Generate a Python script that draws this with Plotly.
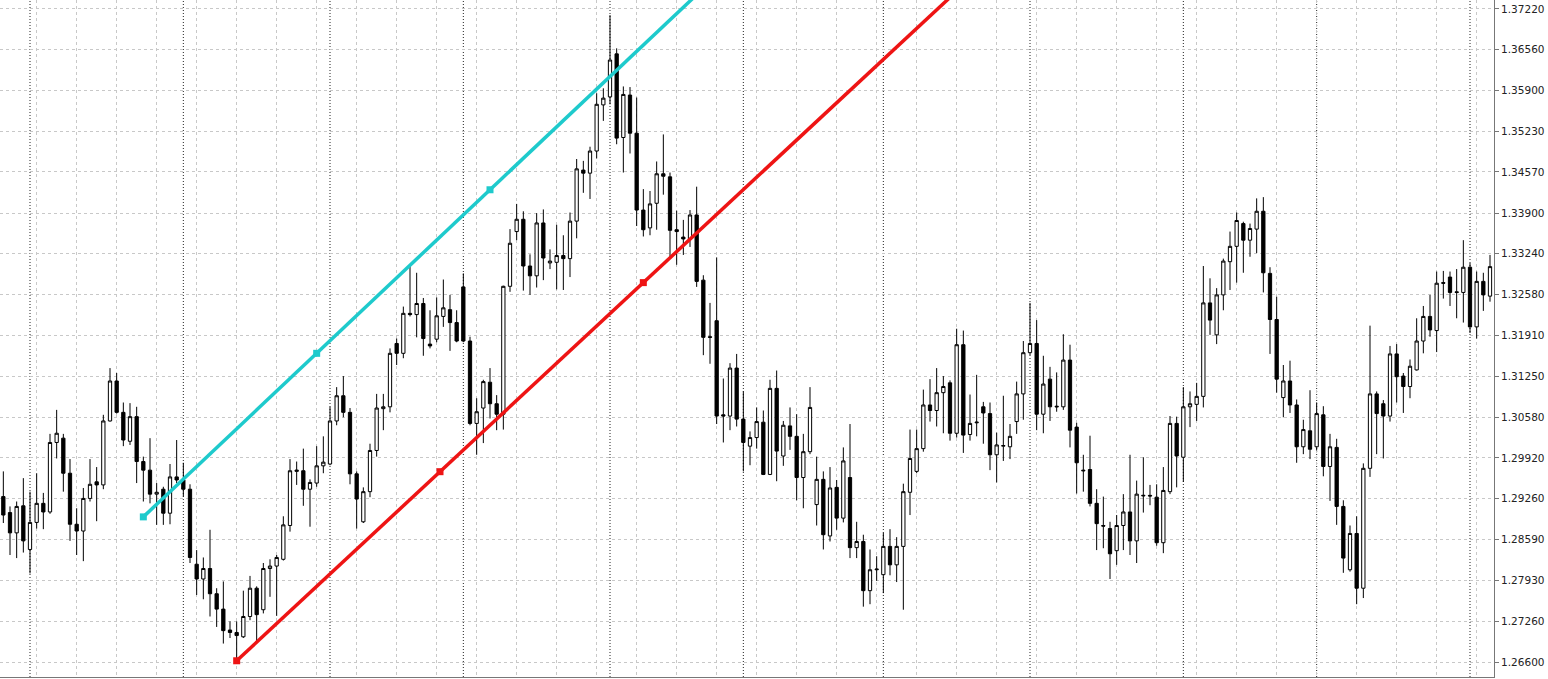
import plotly.graph_objects as go

# ---- candle data (hourly bars, index 0..223) ----
opens = [
    1.2929, 1.2903, 1.2870, 1.2914, 1.2843, 1.2887, 1.2918, 1.2904, 1.3017, 1.3024,
    1.2967, 1.2884, 1.2873, 1.2926, 1.2953, 1.2948, 1.3052, 1.3117, 1.3066, 1.3019,
    1.3059, 1.2986, 1.2972, 1.2933, 1.2941, 1.2902, 1.2961, 1.2956, 1.2941, 1.2819,
    1.2795, 1.2812, 1.2771, 1.2746, 1.2712, 1.2708, 1.2701, 1.2734, 1.2780, 1.2745,
    1.2812, 1.2816, 1.2827, 1.2882, 1.2970, 1.2971, 1.2941, 1.2951, 1.2979, 1.2982,
    1.3052, 1.3093, 1.3066, 1.2966, 1.2888, 1.2937, 1.3004, 1.3072, 1.3075, 1.3178,
    1.3162, 1.3227, 1.3225, 1.3243, 1.3177, 1.3185, 1.3222, 1.3233, 1.3212, 1.3270,
    1.3182, 1.3048, 1.3073, 1.3115, 1.3080, 1.3063, 1.3271, 1.3360, 1.3380, 1.3304,
    1.3288, 1.3374, 1.3309, 1.3310, 1.3321, 1.3316, 1.3377, 1.3460, 1.3455, 1.3491,
    1.3566, 1.3579, 1.3649, 1.3513, 1.3582, 1.3520, 1.3395, 1.3366, 1.3406, 1.3454,
    1.3449, 1.3363, 1.3351, 1.3348, 1.3387, 1.3281, 1.3189, 1.3215, 1.3062, 1.3060,
    1.3138, 1.3055, 1.3011, 1.3025, 1.3050, 1.2965, 1.3105, 1.2995, 1.3044, 1.3027,
    1.2960, 1.3002, 1.2916, 1.2957, 1.2865, 1.2944, 1.2894, 1.2960, 1.2846, 1.2856,
    1.2776, 1.2810, 1.2802, 1.2848, 1.2818, 1.2848, 1.2936, 1.2970, 1.3007, 1.3078,
    1.3069, 1.3098, 1.3114, 1.3032, 1.3176, 1.3030, 1.3049, 1.3075, 1.3064, 1.2997,
    1.3011, 1.3010, 1.3051, 1.3096, 1.3163, 1.3178, 1.3063, 1.3120, 1.3076, 1.3075,
    1.3151, 1.3042, 1.2972, 1.2973, 1.2918, 1.2882, 1.2877, 1.2841, 1.2882, 1.2904,
    1.2857, 1.2930, 1.2931, 1.2928, 1.2854, 1.2937, 1.3048, 1.2993, 1.3075, 1.3079,
    1.3092, 1.3244, 1.3192, 1.3257, 1.3311, 1.3336, 1.3373, 1.3346, 1.3364, 1.3393,
    1.3292, 1.3217, 1.3090, 1.3117, 1.3078, 1.3010, 1.3036, 1.3010, 1.3062, 1.2978,
    1.3009, 1.2913, 1.2810, 1.2869, 1.2780, 1.2975, 1.3096, 1.3080, 1.3060, 1.3161,
    1.3125, 1.3108, 1.3135, 1.3182, 1.3222, 1.3199, 1.3277, 1.3286, 1.3262, 1.3261,
    1.3302, 1.3205, 1.3279, 1.3255,
]
highs = [
    1.2970, 1.2913, 1.2921, 1.2959, 1.2937, 1.2967, 1.2935, 1.3031, 1.3070, 1.3031,
    1.2990, 1.2910, 1.2943, 1.2990, 1.2977, 1.3062, 1.3138, 1.3130, 1.3082, 1.3081,
    1.3075, 1.2994, 1.3024, 1.2951, 1.2945, 1.2982, 1.3021, 1.2984, 1.2949, 1.2842,
    1.2830, 1.2875, 1.2780, 1.2791, 1.2726, 1.2726, 1.2776, 1.2800, 1.2783, 1.2821,
    1.2827, 1.2834, 1.2897, 1.2990, 1.2986, 1.3007, 1.2957, 1.3011, 1.3027, 1.3075,
    1.3107, 1.3125, 1.3073, 1.2970, 1.2944, 1.3015, 1.3096, 1.3096, 1.3170, 1.3186,
    1.3238, 1.3306, 1.3293, 1.3252, 1.3232, 1.3253, 1.3282, 1.3257, 1.3232, 1.3292,
    1.3189, 1.3089, 1.3119, 1.3138, 1.3094, 1.3272, 1.3364, 1.3405, 1.3393, 1.3323,
    1.3390, 1.3396, 1.3331, 1.3371, 1.3354, 1.3391, 1.3478, 1.3475, 1.3498, 1.3585,
    1.3593, 1.3712, 1.3658, 1.3596, 1.3595, 1.3578, 1.3429, 1.3426, 1.3474, 1.3518,
    1.3456, 1.3394, 1.3379, 1.3395, 1.3433, 1.3289, 1.3244, 1.3318, 1.3121, 1.3146,
    1.3161, 1.3100, 1.3035, 1.3074, 1.3069, 1.3119, 1.3134, 1.3052, 1.3074, 1.3063,
    1.3031, 1.3107, 1.2994, 1.2970, 1.2977, 1.2956, 1.3009, 1.3047, 1.2888, 1.2867,
    1.2843, 1.2832, 1.2870, 1.2876, 1.2863, 1.2950, 1.3038, 1.3038, 1.3103, 1.3120,
    1.3138, 1.3125, 1.3118, 1.3202, 1.3199, 1.3095, 1.3127, 1.3083, 1.3082, 1.3033,
    1.3093, 1.3047, 1.3116, 1.3182, 1.3244, 1.3216, 1.3158, 1.3140, 1.3131, 1.3193,
    1.3176, 1.3049, 1.2997, 1.3028, 1.2941, 1.2929, 1.2888, 1.2899, 1.2933, 1.2997,
    1.2955, 1.2993, 1.2948, 1.2949, 1.2977, 1.3060, 1.3059, 1.3107, 1.3100, 1.3114,
    1.3304, 1.3284, 1.3268, 1.3316, 1.3360, 1.3391, 1.3376, 1.3373, 1.3414, 1.3416,
    1.3302, 1.3254, 1.3143, 1.3150, 1.3087, 1.3054, 1.3102, 1.3082, 1.3076, 1.3031,
    1.3023, 1.2923, 1.2882, 1.2897, 1.2983, 1.3207, 1.3100, 1.3086, 1.3174, 1.3177,
    1.3130, 1.3152, 1.3219, 1.3239, 1.3257, 1.3295, 1.3296, 1.3295, 1.3299, 1.3346,
    1.3309, 1.3295, 1.3293, 1.3322,
]
lows = [
    1.2886, 1.2834, 1.2829, 1.2838, 1.2804, 1.2877, 1.2876, 1.2901, 1.2991, 1.2937,
    1.2857, 1.2834, 1.2824, 1.2921, 1.2889, 1.2941, 1.3051, 1.3064, 1.3011, 1.3013,
    1.2951, 1.2921, 1.2918, 1.2883, 1.2883, 1.2884, 1.2951, 1.2929, 1.2821, 1.2769,
    1.2762, 1.2734, 1.2717, 1.2690, 1.2699, 1.2661, 1.2699, 1.2728, 1.2691, 1.2739,
    1.2766, 1.2735, 1.2825, 1.2872, 1.2948, 1.2914, 1.2880, 1.2945, 1.2967, 1.2980,
    1.3045, 1.3058, 1.2949, 1.2877, 1.2886, 1.2928, 1.2994, 1.3037, 1.3066, 1.3143,
    1.3154, 1.3222, 1.3188, 1.3158, 1.3170, 1.3180, 1.3205, 1.3166, 1.3180, 1.3180,
    1.3045, 1.2997, 1.3016, 1.3056, 1.3037, 1.3038, 1.3262, 1.3346, 1.3264, 1.3257,
    1.3269, 1.3281, 1.3299, 1.3266, 1.3265, 1.3286, 1.3349, 1.3423, 1.3413, 1.3479,
    1.3540, 1.3567, 1.3502, 1.3456, 1.3487, 1.3369, 1.3352, 1.3354, 1.3363, 1.3420,
    1.3316, 1.3306, 1.3322, 1.3335, 1.3270, 1.3159, 1.3145, 1.3047, 1.3017, 1.3037,
    1.3043, 1.2970, 1.2980, 1.3007, 1.2964, 1.2964, 1.2954, 1.2979, 1.3005, 1.2923,
    1.2910, 1.2998, 1.2882, 1.2843, 1.2856, 1.2875, 1.2887, 1.2829, 1.2829, 1.2750,
    1.2754, 1.2792, 1.2772, 1.2801, 1.2790, 1.2745, 1.2899, 1.2967, 1.3002, 1.3051,
    1.3043, 1.3032, 1.3020, 1.3025, 1.3000, 1.3020, 1.3027, 1.3015, 1.2972, 1.2952,
    1.2987, 1.2990, 1.3031, 1.3054, 1.3159, 1.3037, 1.3032, 1.3052, 1.3067, 1.3070,
    1.3009, 1.2934, 1.2937, 1.2913, 1.2842, 1.2845, 1.2795, 1.2818, 1.2842, 1.2834,
    1.2821, 1.2903, 1.2915, 1.2849, 1.2837, 1.2933, 1.2944, 1.2953, 1.3042, 1.3052,
    1.3074, 1.3192, 1.3177, 1.3232, 1.3265, 1.3277, 1.3293, 1.3319, 1.3325, 1.3261,
    1.3161, 1.3098, 1.3058, 1.3065, 1.2984, 1.2998, 1.2990, 1.3004, 1.2962, 1.2922,
    1.2883, 1.2805, 1.2807, 1.2754, 1.2764, 1.2961, 1.2998, 1.2991, 1.3051, 1.3082,
    1.3065, 1.3089, 1.3134, 1.3162, 1.3189, 1.3164, 1.3251, 1.3239, 1.3219, 1.3212,
    1.3195, 1.3186, 1.3231, 1.3246,
]
closes = [
    1.2899, 1.2870, 1.2913, 1.2857, 1.2887, 1.2918, 1.2904, 1.3017, 1.3032, 1.2967,
    1.2884, 1.2873, 1.2926, 1.2949, 1.2948, 1.3052, 1.3117, 1.3066, 1.3021, 1.3059,
    1.2986, 1.2972, 1.2933, 1.2936, 1.2902, 1.2961, 1.2956, 1.2941, 1.2830, 1.2795,
    1.2812, 1.2771, 1.2746, 1.2711, 1.2708, 1.2703, 1.2734, 1.2780, 1.2737, 1.2812,
    1.2816, 1.2830, 1.2883, 1.2971, 1.2972, 1.2941, 1.2952, 1.2979, 1.2985, 1.3052,
    1.3093, 1.3066, 1.2966, 1.2925, 1.2937, 1.3004, 1.3073, 1.3075, 1.3162, 1.3162,
    1.3227, 1.3225, 1.3243, 1.3186, 1.3174, 1.3223, 1.3236, 1.3212, 1.3182, 1.3182,
    1.3048, 1.3067, 1.3116, 1.3080, 1.3063, 1.3271, 1.3341, 1.3380, 1.3304, 1.3288,
    1.3374, 1.3317, 1.3312, 1.3321, 1.3316, 1.3377, 1.3462, 1.3455, 1.3491, 1.3567,
    1.3577, 1.3639, 1.3512, 1.3583, 1.3520, 1.3395, 1.3363, 1.3405, 1.3454, 1.3450,
    1.3362, 1.3360, 1.3348, 1.3387, 1.3279, 1.3188, 1.3188, 1.3060, 1.3060, 1.3138,
    1.3055, 1.3017, 1.3025, 1.3051, 1.2965, 1.3105, 1.3003, 1.3045, 1.3027, 1.2960,
    1.3002, 1.3074, 1.2957, 1.2867, 1.2943, 1.2894, 1.2987, 1.2846, 1.2856, 1.2776,
    1.2810, 1.2811, 1.2848, 1.2818, 1.2848, 1.2937, 1.2991, 1.3007, 1.3078, 1.3069,
    1.3098, 1.3108, 1.3032, 1.3176, 1.3029, 1.3048, 1.3050, 1.3065, 1.2997, 1.3013,
    1.3012, 1.3027, 1.3096, 1.3163, 1.3178, 1.3063, 1.3112, 1.3075, 1.3075, 1.3151,
    1.3037, 1.2984, 1.2971, 1.2918, 1.2885, 1.2881, 1.2836, 1.2882, 1.2904, 1.2857,
    1.2933, 1.2931, 1.2930, 1.2854, 1.2939, 1.3048, 1.2995, 1.3075, 1.3080, 1.3092,
    1.3244, 1.3216, 1.3257, 1.3312, 1.3336, 1.3378, 1.3346, 1.3365, 1.3393, 1.3293,
    1.3217, 1.3120, 1.3117, 1.3078, 1.3010, 1.3038, 1.3006, 1.3064, 1.2978, 1.3010,
    1.2913, 1.2829, 1.2869, 1.2780, 1.2975, 1.3096, 1.3064, 1.3060, 1.3161, 1.3124,
    1.3108, 1.3141, 1.3182, 1.3222, 1.3200, 1.3276, 1.3276, 1.3261, 1.3261, 1.3302,
    1.3205, 1.3279, 1.3257, 1.3303,
]

# day separators (bar index) and price-axis labels
day_separators = [4, 27, 49, 69, 91, 111, 132, 154, 177, 197, 220]
price_ticks = [1.26600, 1.27260, 1.27930, 1.28590, 1.29260, 1.29920, 1.30580,
               1.31250, 1.31910, 1.32580, 1.33240, 1.33900, 1.34570, 1.35230,
               1.35900, 1.36560, 1.37220]
price_labels = ["%.5f" % v for v in price_ticks]

# trend lines: two anchor points each (bar index, price)
cyan_anchor_idx = [21, 73]
cyan_anchor_px = [1.2896, 1.3428]
red_anchor_idx = [35, 96]
red_anchor_px = [1.2662, 1.3277]

x_idx = list(range(len(opens)))
X_MIN, X_MAX = -0.5, 223.6
Y_MIN, Y_MAX = 1.26356, 1.37366

fig = go.Figure()

fig.add_trace(go.Candlestick(
    x=x_idx, open=opens, high=highs, low=lows, close=closes,
    increasing=dict(line=dict(color="#000000", width=1), fillcolor="#ffffff"),
    decreasing=dict(line=dict(color="#000000", width=1), fillcolor="#000000"),
    whiskerwidth=0, hoverinfo="skip", showlegend=False,
))


def ray(idx, px, color):
    slope = (px[1] - px[0]) / (idx[1] - idx[0])
    xs = [idx[0], idx[1], X_MAX + 5]
    ys = [px[0], px[1], px[1] + slope * (X_MAX + 5 - idx[1])]
    fig.add_trace(go.Scatter(x=xs, y=ys, mode="lines",
                             line=dict(color=color, width=3.5),
                             hoverinfo="skip", showlegend=False))
    mx = [idx[0], (idx[0] + idx[1]) / 2, idx[1]]
    my = [px[0], (px[0] + px[1]) / 2, px[1]]
    fig.add_trace(go.Scatter(x=mx, y=my, mode="markers",
                             marker=dict(color=color, size=7, symbol="square"),
                             hoverinfo="skip", showlegend=False))


ray(cyan_anchor_idx, cyan_anchor_px, "#1ECACC")
ray(red_anchor_idx, red_anchor_px, "#EE1414")

for s in day_separators:
    fig.add_vline(x=s, line=dict(color="#222222", width=1, dash="1px,2px"), layer="below")

fig.update_layout(
    width=1548, height=679,
    margin=dict(l=0, r=54, t=0, b=2),
    plot_bgcolor="#ffffff", paper_bgcolor="#ffffff",
    showlegend=False,
    boxgap=0.3,
    xaxis=dict(
        range=[X_MIN, X_MAX], tick0=5, dtick=6,
        showgrid=True, gridcolor="#c8c8c8", griddash="3px,3px", gridwidth=1,
        showticklabels=False, ticks="", zeroline=False,
        showline=True, linecolor="#777777", linewidth=1,
        rangeslider=dict(visible=False), fixedrange=True,
    ),
    yaxis=dict(
        side="right", range=[Y_MIN, Y_MAX],
        tickmode="array", tickvals=price_ticks, ticktext=price_labels,
        showgrid=True, gridcolor="#c8c8c8", griddash="3px,3px", gridwidth=1,
        showline=True, linecolor="#777777", linewidth=1,
        ticks="outside", ticklen=4, tickcolor="#777777",
        tickfont=dict(family="DejaVu Sans", size=10.5, color="#222222"),
        zeroline=False, fixedrange=True,
    ),
)

fig.write_html(
    "out.html",
    config={"displayModeBar": False},
    post_script="document.body.style.margin='0';document.body.style.overflow='hidden';",
)
